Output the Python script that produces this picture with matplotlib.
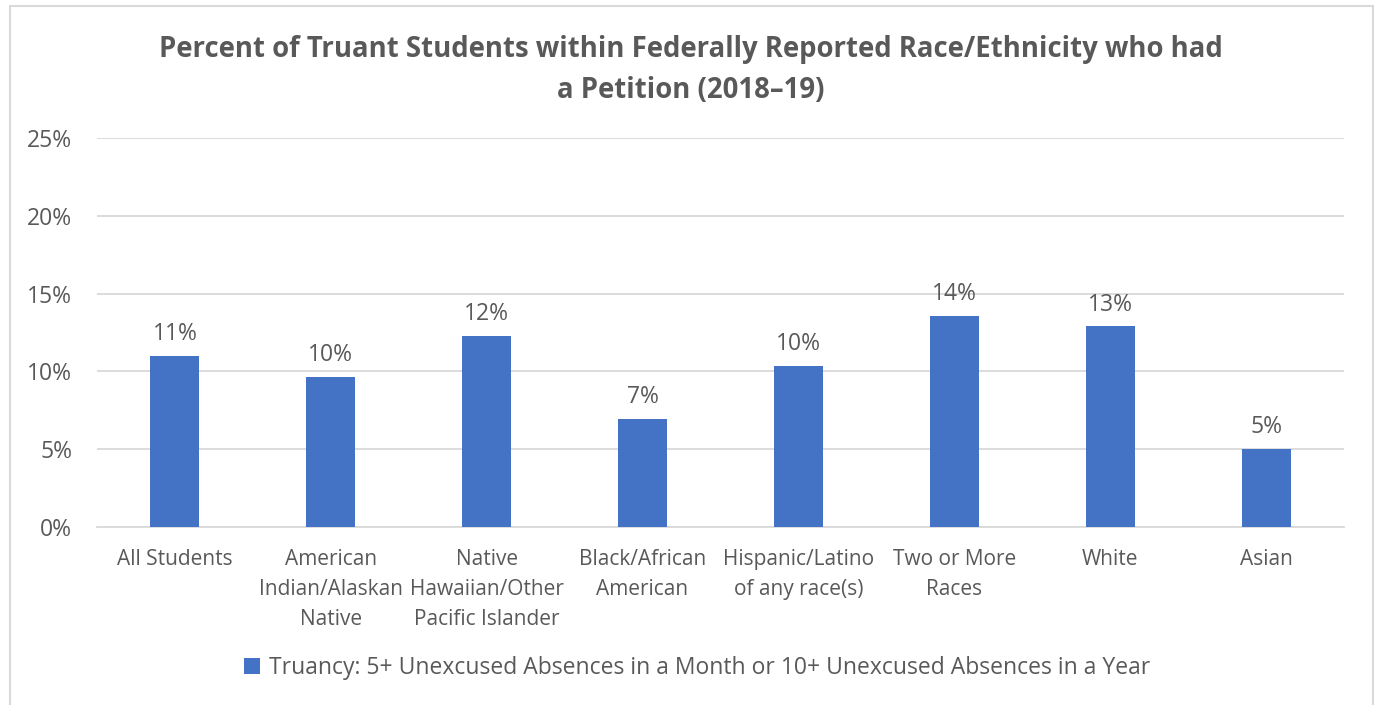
import numpy as np
import matplotlib.pyplot as plt
from matplotlib.patches import Rectangle
from matplotlib.ticker import FuncFormatter

plt.rcParams['font.family'] = ['Open Sans', 'DejaVu Sans']

# data
categories = ["All Students", "American\nIndian/Alaskan\nNative", "Native\nHawaiian/Other\nPacific Islander",
              "Black/African\nAmerican", "Hispanic/Latino\nof any race(s)", "Two or More\nRaces", "White", "Asian"]
values = [11.0, 9.65, 12.3, 6.95, 10.35, 13.55, 12.9, 5.0]
labels = ["11%", "10%", "12%", "7%", "10%", "14%", "13%", "5%"]
series_name = "Truancy: 5+ Unexcused Absences in a Month or 10+ Unexcused Absences in a Year"
title = "Percent of Truant Students within Federally Reported Race/Ethnicity who had\na Petition (2018\u201319)"

W, H = 1376, 705
text_col = '#595959'
bar_col = '#4472C4'
grid_col = '#D9D9D9'

fig = plt.figure(figsize=(W / 100, H / 100), dpi=100)

# outer chart frame
fig.patches.append(Rectangle((9.5 / W, -0.05), (1373 - 9.5) / W, 1 - 6.5 / H + 0.05,
                             transform=fig.transFigure, fill=False, edgecolor='#D9D9D9', linewidth=1.5))

ax = fig.add_axes([97 / W, (H - 527) / H, (1344 - 97) / W, (527 - 138) / H])
x = np.arange(len(categories))
bars = ax.bar(x, values, width=0.315, color=bar_col, label=series_name, zorder=3)

for xi, v, lab in zip(x, values, labels):
    ax.annotate(lab, (xi, v), xytext=(0, 7), textcoords='offset points',
                ha='center', va='bottom', fontsize=16.5, color=text_col)

ax.set_xlim(-0.5, len(categories) - 0.5)
ax.set_ylim(0, 25)
ax.set_yticks(np.arange(0, 26, 5))
ax.yaxis.set_major_formatter(FuncFormatter(lambda v, p: f"{v:.0f}%"))
ax.grid(axis='y', color=grid_col, linewidth=1.3, zorder=0)
ax.set_xticks(x)
ax.set_xticklabels(categories, fontsize=15, color=text_col, linespacing=1.55, va='top')
ax.tick_params(axis='x', length=0, pad=16)
ax.tick_params(axis='y', length=0, pad=18, labelsize=16.5, labelcolor=text_col)
for s in ['top', 'right', 'left']:
    ax.spines[s].set_visible(False)
ax.spines['bottom'].set_color(grid_col)
ax.spines['bottom'].set_linewidth(1.3)

fig.text(691 / W, 1 - 70 / H, title, ha='center', va='center', fontsize=19.8, fontweight='bold',
         color=text_col, linespacing=1.58)

fig.legend(loc='center', bbox_to_anchor=(697 / W, 1 - 668 / H), frameon=False, fontsize=16.5,
           labelcolor=text_col, handlelength=0.7, handleheight=0.7, handletextpad=0.4)

fig.savefig('out.png', dpi=100)
